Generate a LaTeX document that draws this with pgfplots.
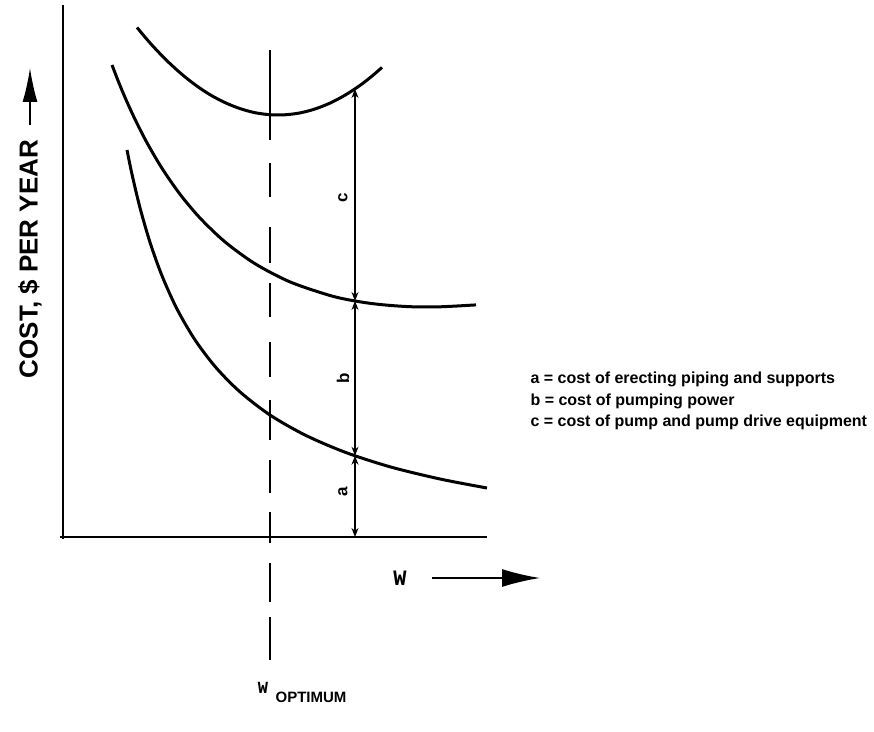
\documentclass[border=0pt]{standalone}
\usepackage{pgfplots}
\pgfplotsset{compat=1.18}
\usepackage{fontspec}
\setmainfont{Liberation Sans}
\newfontfamily\wfont{Liberation Mono}
\usetikzlibrary{arrows.meta}
\begin{document}
\begin{tikzpicture}
\begin{axis}[
  scale only axis, width=874pt, height=731pt,
  xmin=0, xmax=874, ymin=0, ymax=731,
  axis lines=none, clip=false, unbounded coords=jump,
]
\addplot[draw=none] coordinates {(0,0) (874,731)};
% axes
\addplot[black, line width=2.2pt] coordinates {(63,726) (63,192)};
\addplot[black, line width=2.8pt] coordinates {(60,194) (487,194)};
% dashed optimum line
\addplot[black, line width=1.4pt] coordinates {
 (270,681) (270,591) (270,nan)
 (270,568) (270,534) (270,nan)
 (270,504) (270,468) (270,nan)
 (270,448) (270,414) (270,nan)
 (270,389) (270,354) (270,nan)
 (270,331) (270,291) (270,nan)
 (270,271) (270,238) (270,nan)
 (270,219) (270,188) (270,nan)
 (270,168) (270,129) (270,nan)
 (270,114) (270,71)};
% top curve (a+b+c)
\addplot[black, line width=3pt, smooth] coordinates {
 (137,703.5) (150,688.1) (165,672.2) (180,658.3) (195,646.3) (210,636.3) (225,628.4) (240,622.4) (255,618.3) (270,616.3) (285,616.2) (300,618.1) (315,622) (330,627.9) (345,635.8) (360,645.6) (372,654.9) (382,663.6)};
% middle curve (a+b)
\addplot[black, line width=3pt, smooth] coordinates {
 (112,666) (118,650.5) (125,633.6) (135,611.7) (147,588.2) (162,562.7) (180,536.8) (200,513) (225,489.1) (255,467.3) (290,449.1) (330,435.5) (355,430) (380,426.5) (410,424.3) (440,424.2) (476,426.1)};
% lower curve (a)
\addplot[black, line width=3pt, smooth] coordinates {
 (127,581) (132,556.7) (140,523.2) (150,488.7) (162,455.2) (177,422) (195,391.1) (216,363.4) (240,339.1) (270,316) (305,296) (345,278.8) (390,264.2) (440,252) (487,243)};
% dimension arrows
\addplot[black, line width=1.1pt, {Stealth[length=9pt,width=7pt]}-{Stealth[length=9pt,width=7pt]}] coordinates {(355,430) (355,642)};
\addplot[black, line width=1.1pt, {Stealth[length=9pt,width=7pt]}-{Stealth[length=9pt,width=7pt]}] coordinates {(355,275.3) (355,430)};
\addplot[black, line width=1.1pt, {Stealth[length=9pt,width=7pt]}-{Stealth[length=9pt,width=7pt]}] coordinates {(355,194) (355,275.3)};
% axis arrows
\addplot[black, line width=1.5pt, -{Latex[length=34pt,width=15pt]}] coordinates {(30,606) (30,663)};
\addplot[black, line width=1.5pt, -{Latex[length=38pt,width=18pt]}] coordinates {(432,153) (540,153)};
% labels
\node[rotate=90, font=\fontsize{17}{20}\selectfont\bfseries] at (axis cs:343,239) {a};
\node[rotate=90, font=\fontsize{17}{20}\selectfont\bfseries] at (axis cs:343,353) {b};
\node[rotate=90, font=\fontsize{17}{20}\selectfont\bfseries] at (axis cs:343,533) {c};
\node[rotate=90, font=\fontsize{26}{30}\selectfont\bfseries] at (axis cs:30,472) {COST, \$ PER YEAR};
\node[font=\fontsize{22}{26}\selectfont\wfont\bfseries] at (axis cs:400,153) {W};
\node[font=\fontsize{17}{20}\selectfont\wfont\bfseries] at (axis cs:263,43) {W};
\node[font=\fontsize{15}{18}\selectfont\bfseries] at (axis cs:311,34) {OPTIMUM};
\node[anchor=base west, font=\fontsize{16}{19}\selectfont\bfseries] at (axis cs:527,347) {a = cost of erecting piping and supports};
\node[anchor=base west, font=\fontsize{16}{19}\selectfont\bfseries] at (axis cs:527,325) {b = cost of pumping power};
\node[anchor=base west, font=\fontsize{16}{19}\selectfont\bfseries] at (axis cs:527,304) {c = cost of pump and pump drive equipment};
\end{axis}
\end{tikzpicture}
\end{document}
